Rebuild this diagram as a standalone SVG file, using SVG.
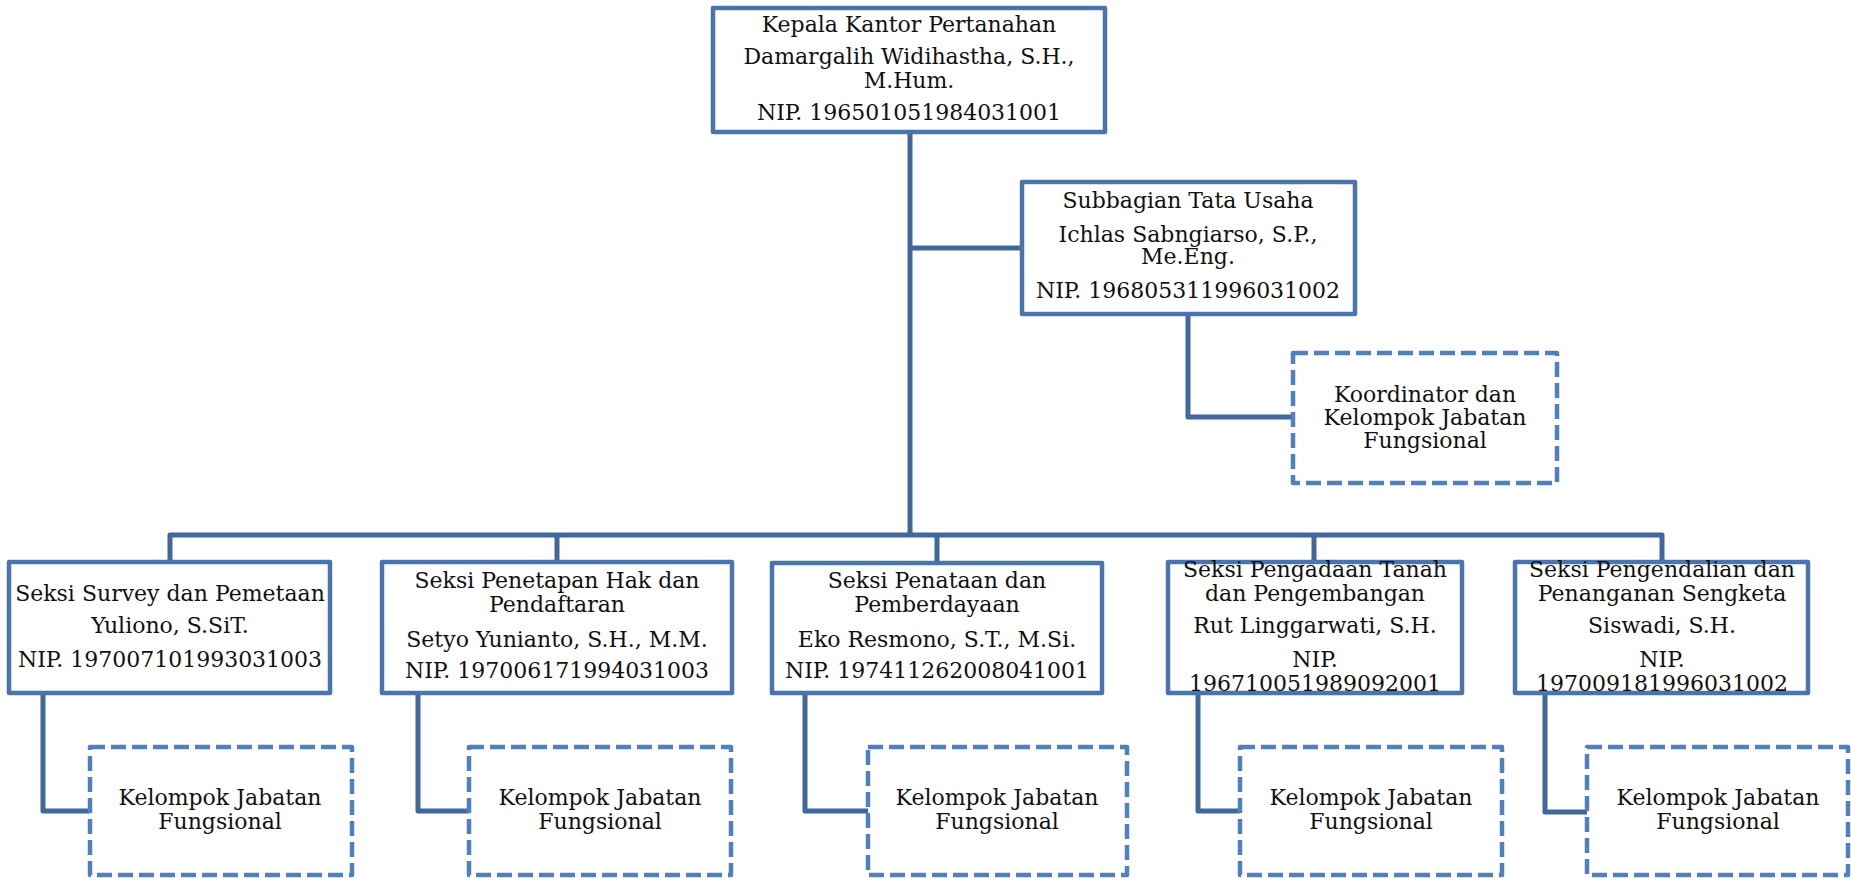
<svg xmlns="http://www.w3.org/2000/svg" width="1851" height="878" viewBox="0 0 1851 878">
<style>
.box{fill:#fff;stroke:#4a74ab;stroke-width:4.5;stroke-linejoin:round}
.dbox{fill:#fff;stroke:#4f81bd;stroke-width:4.5;stroke-dasharray:15 6;stroke-linejoin:round}
.con{fill:none;stroke:#41679b;stroke-width:5;stroke-linejoin:round}
text{font-family:"DejaVu Serif","Liberation Serif",serif;font-size:22px;fill:#111;text-anchor:middle}
</style>
<rect width="1851" height="878" fill="#fff"/>
<g id="connectors">
<path class="con" d="M910 133 V535"/>
<path class="con" d="M910 248 H1022"/>
<path class="con" d="M1188 314 V417 H1293"/>
<path class="con" d="M170 562 V535 H1662 V562"/>
<path class="con" d="M557 535 V562"/>
<path class="con" d="M937 535 V563"/>
<path class="con" d="M1314 535 V562"/>
<path class="con" d="M43 693 V811 H90"/>
<path class="con" d="M418 693 V811 H469"/>
<path class="con" d="M805 693 V811 H868"/>
<path class="con" d="M1198 693 V811 H1240"/>
<path class="con" d="M1545 693 V812 H1587"/>
</g>
<g id="kepala">
<rect class="box" x="713" y="8" width="392" height="124"/>
<text x="909" y="32">Kepala Kantor Pertanahan</text>
<text x="909" y="64">Damargalih Widihastha, S.H.,</text>
<text x="909" y="88">M.Hum.</text>
<text x="909" y="120">NIP. 196501051984031001</text>
</g>
<g id="subbagian">
<rect class="box" x="1022" y="182" width="333" height="132"/>
<text x="1188" y="208">Subbagian Tata Usaha</text>
<text x="1188" y="242">Ichlas Sabngiarso, S.P.,</text>
<text x="1188" y="264">Me.Eng.</text>
<text x="1188" y="298">NIP. 196805311996031002</text>
</g>
<g id="koordinator">
<rect class="dbox" x="1293" y="353" width="264" height="130"/>
<text x="1425" y="402">Koordinator dan</text>
<text x="1425" y="425">Kelompok Jabatan</text>
<text x="1425" y="448">Fungsional</text>
</g>
<g id="seksi-survey">
<rect class="box" x="9" y="562" width="321" height="131"/>
<text x="170" y="601">Seksi Survey dan Pemetaan</text>
<text x="170" y="633">Yuliono, S.SiT.</text>
<text x="170" y="667">NIP. 197007101993031003</text>
</g>
<g id="seksi-penetapan">
<rect class="box" x="382" y="562" width="350" height="131"/>
<text x="557" y="588">Seksi Penetapan Hak dan</text>
<text x="557" y="612">Pendaftaran</text>
<text x="557" y="647">Setyo Yunianto, S.H., M.M.</text>
<text x="557" y="678">NIP. 197006171994031003</text>
</g>
<g id="seksi-penataan">
<rect class="box" x="772" y="563" width="330" height="130"/>
<text x="937" y="588">Seksi Penataan dan</text>
<text x="937" y="612">Pemberdayaan</text>
<text x="937" y="647">Eko Resmono, S.T., M.Si.</text>
<text x="937" y="678">NIP. 197411262008041001</text>
</g>
<g id="seksi-pengadaan">
<rect class="box" x="1168" y="562" width="294" height="131"/>
<text x="1315" y="577">Seksi Pengadaan Tanah</text>
<text x="1315" y="601">dan Pengembangan</text>
<text x="1315" y="633">Rut Linggarwati, S.H.</text>
<text x="1315" y="667">NIP.</text>
<text x="1315" y="691">196710051989092001</text>
</g>
<g id="seksi-pengendalian">
<rect class="box" x="1515" y="562" width="293" height="131"/>
<text x="1662" y="577">Seksi Pengendalian dan</text>
<text x="1662" y="601">Penanganan Sengketa</text>
<text x="1662" y="633">Siswadi, S.H.</text>
<text x="1662" y="667">NIP.</text>
<text x="1662" y="691">197009181996031002</text>
</g>
<g id="kjf-1">
<rect class="dbox" x="90" y="747" width="262" height="128"/>
<text x="220" y="805">Kelompok Jabatan</text>
<text x="220" y="829">Fungsional</text>
</g>
<g id="kjf-2">
<rect class="dbox" x="469" y="747" width="262" height="128"/>
<text x="600" y="805">Kelompok Jabatan</text>
<text x="600" y="829">Fungsional</text>
</g>
<g id="kjf-3">
<rect class="dbox" x="868" y="747" width="259" height="128"/>
<text x="997" y="805">Kelompok Jabatan</text>
<text x="997" y="829">Fungsional</text>
</g>
<g id="kjf-4">
<rect class="dbox" x="1240" y="747" width="262" height="128"/>
<text x="1371" y="805">Kelompok Jabatan</text>
<text x="1371" y="829">Fungsional</text>
</g>
<g id="kjf-5">
<rect class="dbox" x="1587" y="747" width="261" height="128"/>
<text x="1718" y="805">Kelompok Jabatan</text>
<text x="1718" y="829">Fungsional</text>
</g>
</svg>
